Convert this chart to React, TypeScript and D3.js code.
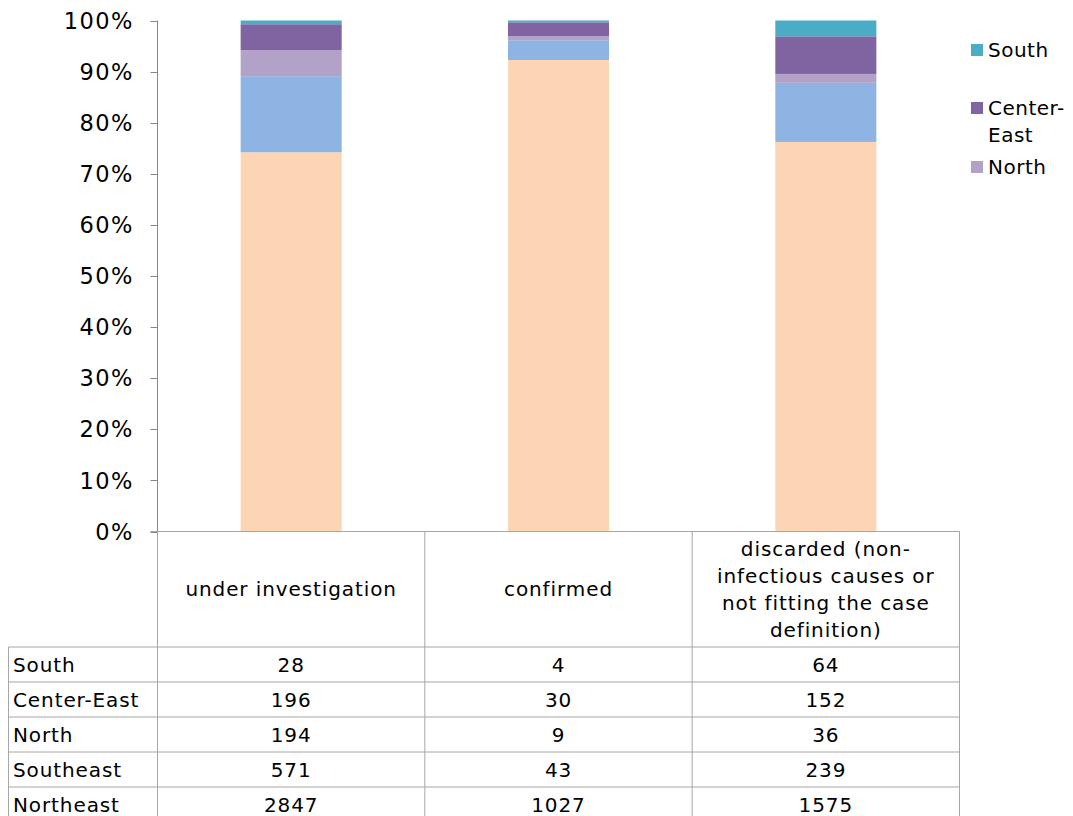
import React from "react";
import * as d3 from "d3";

const categories = ["under investigation", "confirmed", "discarded"];
const categoryLabelLines = [
  ["under investigation"],
  ["confirmed"],
  ["discarded (non-", "infectious causes or", "not fitting the case", "definition)"],
];
const regions = ["South", "Center-East", "North", "Southeast", "Northeast"];
const south = [28, 4, 64];
const centerEast = [196, 30, 152];
const north = [194, 9, 36];
const southeast = [571, 43, 239];
const northeast = [2847, 1027, 1575];
const regionColors = ["#4BACC6", "#8064A2", "#B3A2C7", "#8EB4E3", "#FCD5B5"];
const yTicks = [0, 0.1, 0.2, 0.3, 0.4, 0.5, 0.6, 0.7, 0.8, 0.9, 1];
const legendItems = [
  { name: "South", lines: ["South"] },
  { name: "Center-East", lines: ["Center-", "East"] },
  { name: "North", lines: ["North"] },
];

const FONT = "'DejaVu Sans', Verdana, sans-serif";

export default function App() {
  const W = 1073, H = 816;
  const left = 157.5, right = 959.5, top = 20.5, bottom = 531.5;
  const values = [south, centerEast, north, southeast, northeast];

  const x = d3.scaleBand<string>().domain(categories).range([left, right]).paddingInner(0.622).paddingOuter(0.311);
  const y = d3.scaleLinear().domain([0, 1]).range([bottom, top]);

  const rows = categories.map((c, i) => {
    const r: any = { cat: c };
    regions.forEach((reg, j) => (r[reg] = values[j][i]));
    return r;
  });
  const stackOrder = [...regions].reverse(); // Northeast at bottom
  const stack = d3.stack<any>().keys(stackOrder).offset(d3.stackOffsetExpand);
  const series = stack(rows);

  const step = x.step();
  const colEdges = categories.map((_, i) => left + i * step).concat([right]);
  const headerBottom = 647;
  const rowH = 35;
  const tableLeft = 8.5;
  const axisColor = "#888";
  const gridColor = "#a6a6a6";
  const ls = 0.9;

  return (
    <svg width={W} height={H} style={{ position: "absolute", left: 0, top: 0, display: "block", background: "#fff" }} fontFamily={FONT}>
      {series.map((s) => {
        const color = regionColors[regions.indexOf(s.key)];
        return (
          <g key={s.key}>
            {s.map((d, i) => (
              <rect key={i} x={x(categories[i])!} width={x.bandwidth()} y={y(d[1])} height={y(d[0]) - y(d[1])} fill={color} />
            ))}
          </g>
        );
      })}
      <line x1={left} x2={left} y1={top} y2={bottom} stroke={axisColor} />
      {yTicks.map((t) => (
        <g key={t}>
          <line x1={left - 7} x2={left} y1={Math.round(y(t)) + 0.5} y2={Math.round(y(t)) + 0.5} stroke={axisColor} />
          <text x={134} y={y(t)} dy="0.36em" textAnchor="end" fontSize={22.5} letterSpacing={1.5} fill="#000">
            {d3.format(".0%")(t)}
          </text>
        </g>
      ))}
      <line x1={left - 7} x2={right} y1={bottom} y2={bottom} stroke={gridColor} />
      {colEdges.map((cx, i) => (
        <line key={i} x1={cx} x2={cx} y1={bottom} y2={H + 10} stroke={gridColor} />
      ))}
      <line x1={tableLeft} x2={tableLeft} y1={headerBottom} y2={H + 10} stroke={gridColor} />
      {regions.map((_, ri) => (
        <line key={ri} x1={tableLeft} x2={right} y1={headerBottom + ri * rowH} y2={headerBottom + ri * rowH} stroke={gridColor} />
      ))}
      {categories.map((c, i) => {
        const lines = categoryLabelLines[i];
        const cx = colEdges[i] + step / 2;
        const cy = (bottom + headerBottom) / 2;
        const lh = 27;
        return (
          <text key={c} x={cx} textAnchor="middle" fontSize={20} letterSpacing={ls} fill="#000">
            {lines.map((l, li) => (
              <tspan key={li} x={cx} y={cy + (li - (lines.length - 1) / 2) * lh} dy="0.36em">
                {l}
              </tspan>
            ))}
          </text>
        );
      })}
      {regions.map((reg, ri) => {
        const cy = headerBottom + ri * rowH + rowH / 2;
        return (
          <g key={reg}>
            <text x={13} y={cy} dy="0.36em" fontSize={20} letterSpacing={ls} fill="#000">{reg}</text>
            {categories.map((c, ci) => (
              <text key={c} x={colEdges[ci] + step / 2} y={cy} dy="0.36em" textAnchor="middle" fontSize={20} letterSpacing={ls} fill="#000">
                {values[ri][ci]}
              </text>
            ))}
          </g>
        );
      })}
      {legendItems.map((it, i) => {
        const ys = [50, 108, 167];
        const color = regionColors[regions.indexOf(it.name)];
        return (
          <g key={it.name}>
            <rect x={971} y={ys[i] - 6} width={12} height={12} fill={color} />
            <text fontSize={20} letterSpacing={0.5} fill="#000">
              {it.lines.map((l, li) => (
                <tspan key={li} x={988} y={ys[i] + li * 27} dy="0.36em">{l}</tspan>
              ))}
            </text>
          </g>
        );
      })}
    </svg>
  );
}
